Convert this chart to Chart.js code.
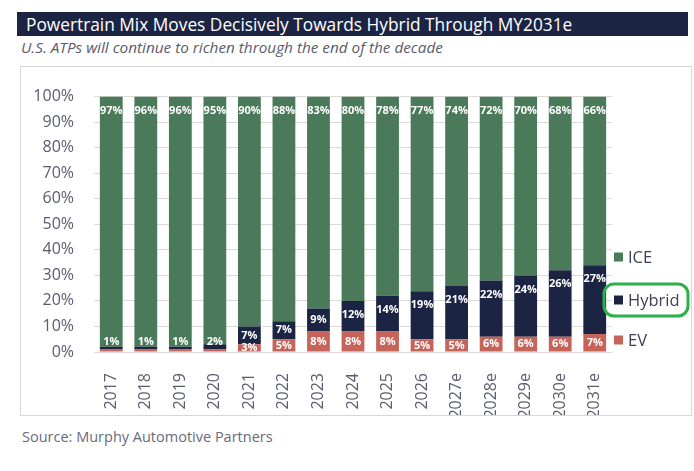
<!DOCTYPE html>
<html lang="en">
<head>
  <meta charset="UTF-8">
  <title>Powertrain Mix</title>
  <script src="https://cdn.jsdelivr.net/npm/chart.js"></script>
  <style>
    body {
      margin: 0;
      width: 694px;
      height: 471px;
      background: #fff;
      font-family: 'Open Sans', sans-serif;
      position: relative;
      overflow: hidden;
    }
    #title {
      position: absolute;
      left: 17px;
      top: 12px;
      width: 671px;
      height: 24px;
      background: #1c2443;
      color: #fff;
      font-size: 18.5px;
      line-height: 24px;
      padding-left: 9px;
      box-sizing: border-box;
      white-space: nowrap;
    }
    #title span {
      display: inline-block;
      transform: scaleX(0.935);
      transform-origin: left center;
    }
    #subtitle {
      position: absolute;
      left: 21px;
      top: 37px;
      font-size: 15.3px;
      font-style: italic;
      color: #5a5b6b;
      white-space: nowrap;
    }
    #box {
      position: absolute;
      left: 20px;
      top: 66px;
      width: 672px;
      height: 350px;
      border: 1px solid #d6d6de;
      box-sizing: border-box;
    }
    #wrap {
      position: absolute;
      left: 21px;
      top: 67px;
      width: 670px;
      height: 348px;
    }
    #source {
      position: absolute;
      left: 22px;
      top: 427px;
      font-size: 14.5px;
      color: #686a7a;
      white-space: nowrap;
    }
  </style>
</head>
<body>
  <div id="title"><span>Powertrain Mix Moves Decisively Towards Hybrid Through MY2031e</span></div>
  <div id="subtitle">U.S. ATPs will continue to richen through the end of the decade</div>
  <div id="box"></div>
  <div id="wrap"><canvas id="mixChart"></canvas></div>
  <div id="source">Source: Murphy Automotive Partners</div>

  <script>
    // data (labelled shares, %)
    const years = ['2017', '2018', '2019', '2020', '2021', '2022', '2023', '2024', '2025', '2026', '2027e', '2028e', '2029e', '2030e', '2031e'];
    const iceShare = [97, 96, 96, 95, 90, 88, 83, 80, 78, 77, 74, 72, 70, 68, 66];
    const hybridShare = [1, 1, 1, 2, 7, 7, 9, 12, 14, 19, 21, 22, 24, 26, 27];
    const evShare = [1, 1, 1, 1, 3, 5, 8, 8, 8, 5, 5, 6, 6, 6, 7];
    const yTicks = [0, 10, 20, 30, 40, 50, 60, 70, 80, 90, 100];

    const colICE = '#4b7a5a';
    const colHybrid = '#1c2443';
    const colEV = '#c6645a';

    // 100% stacked: each column is scaled to its own total
    const totals = years.map((y, i) => iceShare[i] + hybridShare[i] + evShare[i]);
    const pct = arr => arr.map((v, i) => v / totals[i] * 100);

    Chart.defaults.font.family = "'Open Sans', sans-serif";

    // white value labels inside the end of each segment
    const segmentLabels = {
      id: 'segmentLabels',
      afterDatasetsDraw(chart) {
        const ctx = chart.ctx;
        const area = chart.chartArea;
        ctx.save();
        ctx.beginPath();
        ctx.rect(area.left, area.top, area.right - area.left, area.bottom - area.top);
        ctx.clip();
        ctx.fillStyle = '#ffffff';
        ctx.font = 'bold 11px "Open Sans", sans-serif';
        ctx.textAlign = 'center';
        ctx.textBaseline = 'middle';
        chart.data.datasets.forEach((ds, di) => {
          const meta = chart.getDatasetMeta(di);
          meta.data.forEach((bar, i) => {
            const v = ds.raw[i];
            if (di === 0 && v < 2) return;
            const seg = bar.base - bar.y;
            let cy = bar.y + Math.min(14, Math.max(seg / 2, 4));
            if (di > 0) cy = Math.min(cy, area.bottom - 10);
            ctx.fillText(v + '%', bar.x, cy);
          });
        });
        ctx.restore();
      }
    };

    // legend on the right, with the highlight round "Hybrid"
    const sideLegend = {
      id: 'sideLegend',
      afterDraw(chart) {
        const ctx = chart.ctx;
        const area = chart.chartArea;
        const x = area.right + 2;
        const items = [
          { text: 'ICE', color: colICE, dy: -95 },
          { text: 'Hybrid', color: colHybrid, dy: -52 },
          { text: 'EV', color: colEV, dy: -12 }
        ];
        ctx.save();
        ctx.font = '16.5px "Open Sans", sans-serif';
        ctx.textBaseline = 'middle';
        items.forEach(it => {
          const cy = area.bottom + it.dy;
          ctx.fillStyle = it.color;
          ctx.fillRect(x, cy - 4.5, 9, 9);
          ctx.fillStyle = '#3c3f55';
          ctx.fillText(it.text, x + 14, cy + 1);
        });
        // green box
        const hy = area.bottom - 52;
        ctx.strokeStyle = '#2bb04a';
        ctx.lineWidth = 3;
        ctx.beginPath();
        ctx.roundRect(x - 10, hy - 16, 84, 32, 10);
        ctx.stroke();
        ctx.restore();
      }
    };

    const ctx = document.getElementById('mixChart').getContext('2d');
    const mixChart = new Chart(ctx, {
      type: 'bar',
      data: {
        labels: years,
        datasets: [
          { label: 'EV', data: pct(evShare), raw: evShare, backgroundColor: colEV },
          { label: 'Hybrid', data: pct(hybridShare), raw: hybridShare, backgroundColor: colHybrid },
          { label: 'ICE', data: pct(iceShare), raw: iceShare, backgroundColor: colICE }
        ]
      },
      options: {
        responsive: true,
        maintainAspectRatio: false,
        animation: false,
        barPercentage: 0.66,
        categoryPercentage: 1,
        layout: {
          padding: { top: 21, right: 79, left: 0, bottom: 0 }
        },
        scales: {
          x: {
            stacked: true,
            grid: { display: false },
            border: { display: false },
            ticks: {
              autoSkip: false,
              minRotation: 90,
              maxRotation: 90,
              padding: 13,
              color: '#5a5b6e',
              font: { size: 16 }
            },
            afterFit: s => { s.height = 63; }
          },
          y: {
            stacked: true,
            min: 0,
            max: 100,
            afterBuildTicks: s => { s.ticks = yTicks.map(v => ({ value: v })); },
            grid: { color: '#dadada', drawTicks: false },
            border: { display: false },
            ticks: {
              padding: 20,
              color: '#5a5b6e',
              font: { size: 16 },
              callback: v => v + '%'
            },
            afterFit: s => { s.width = 73; }
          }
        },
        plugins: {
          legend: { display: false },
          tooltip: { enabled: false }
        }
      },
      plugins: [segmentLabels, sideLegend]
    });
  </script>
</body>
</html>
